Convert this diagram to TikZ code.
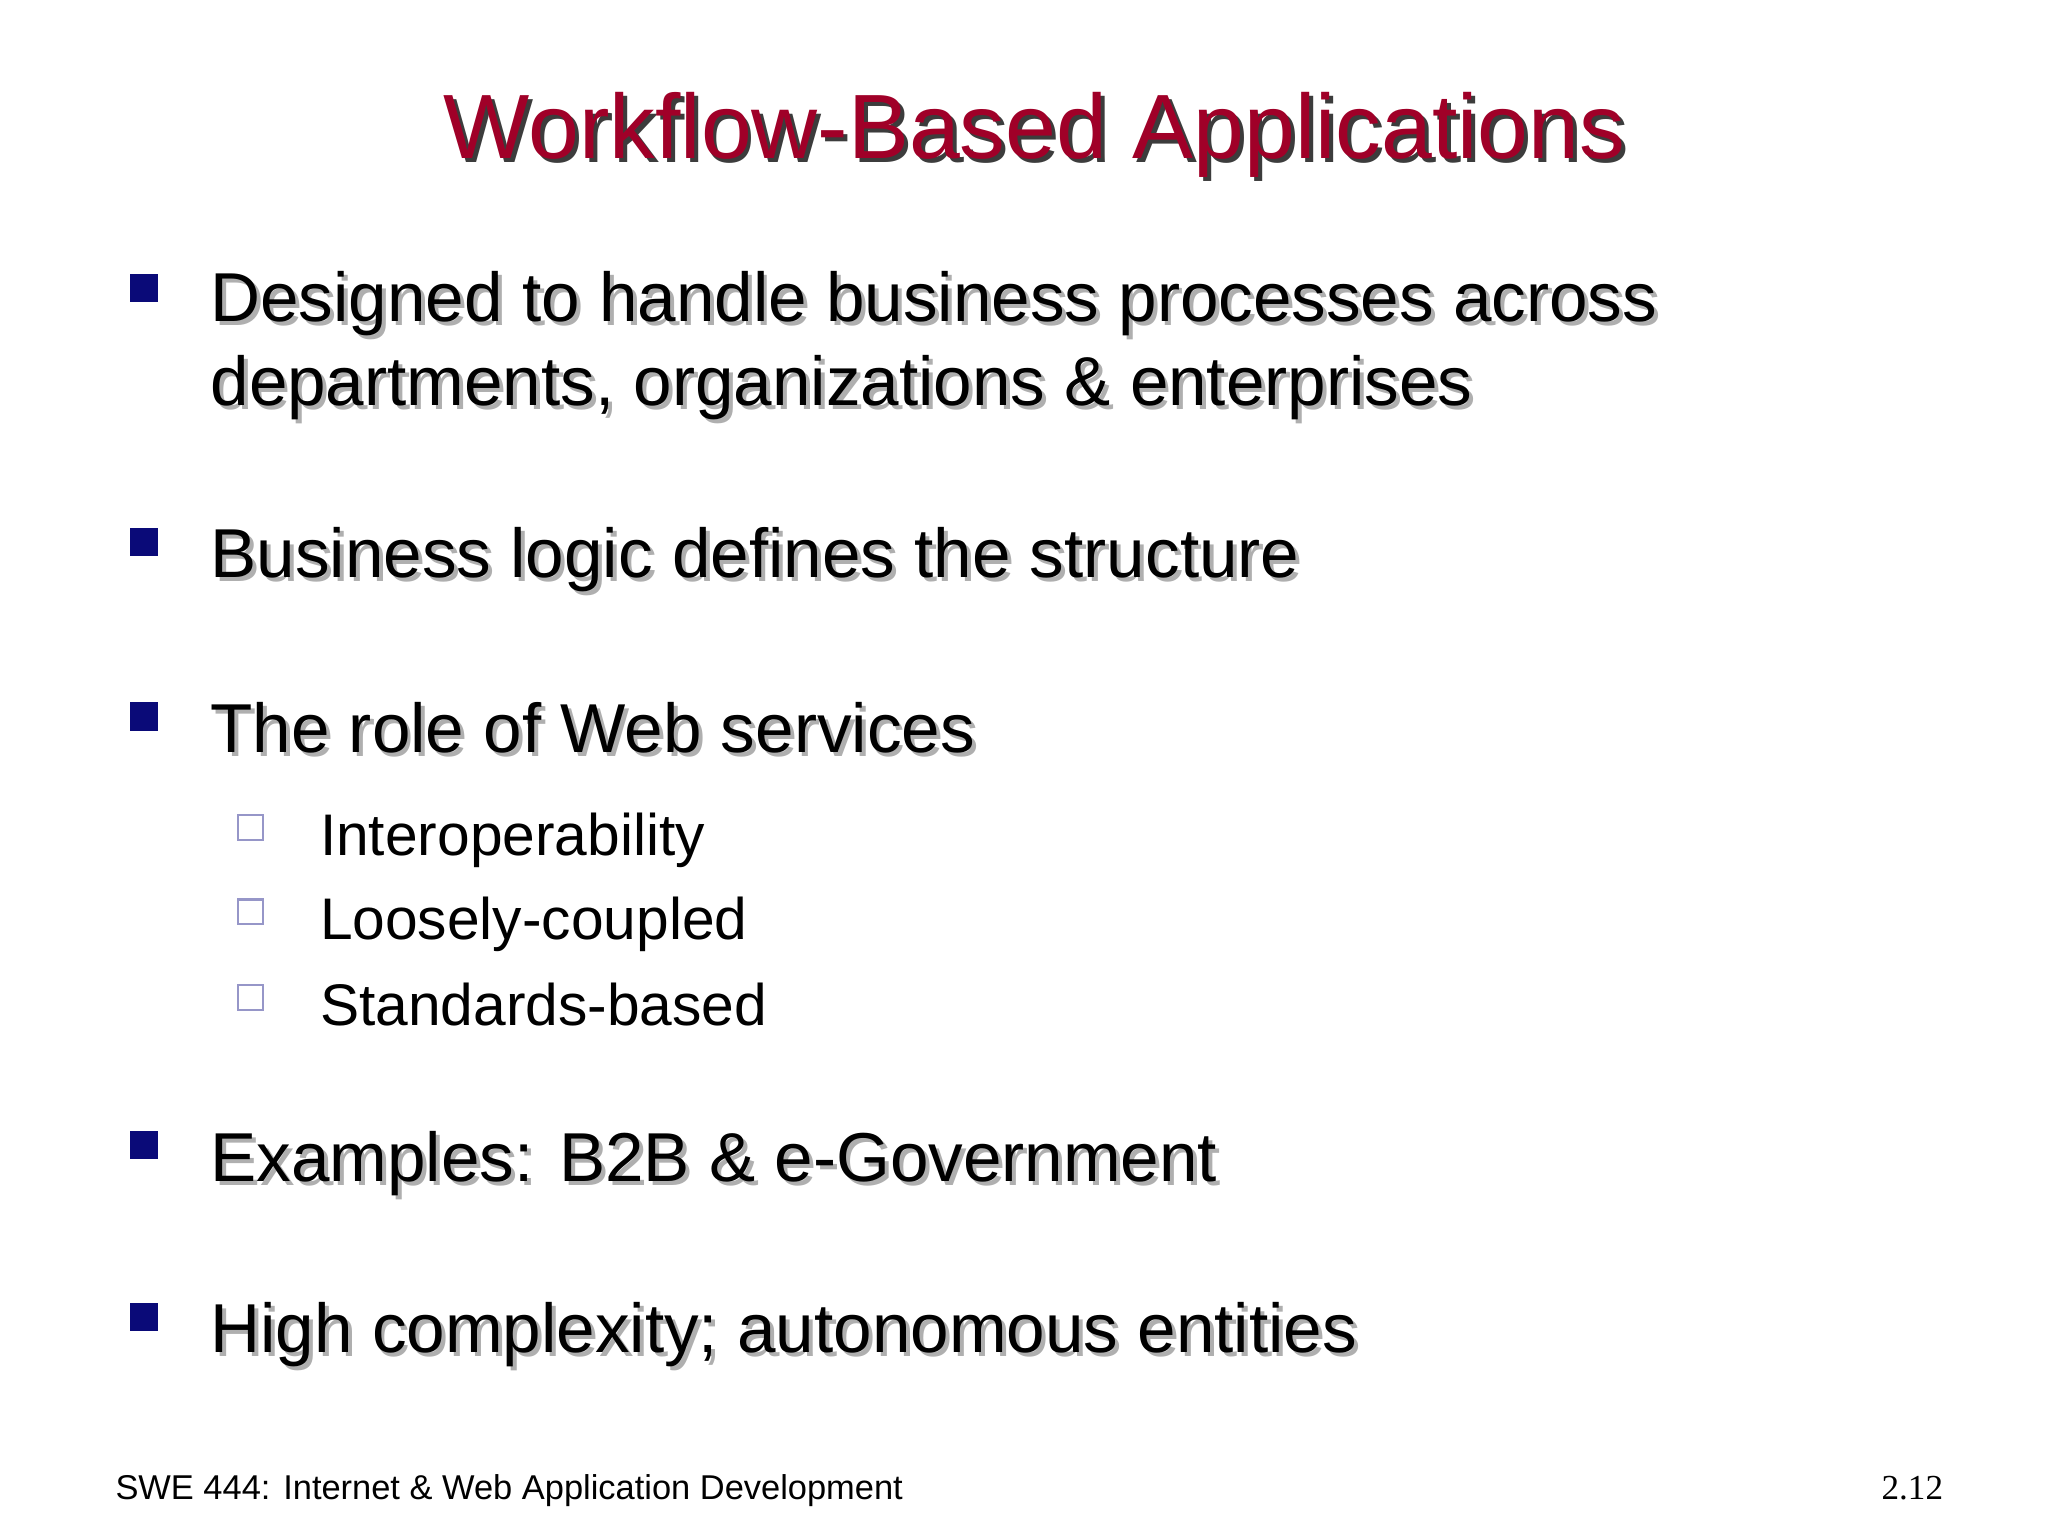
\documentclass[tikz,border=0pt]{standalone}
\usepackage{fontspec}
\setmainfont{Liberation Sans}
\newfontfamily\serifft{Liberation Serif}
\definecolor{titlered}{RGB}{160,0,40}
\definecolor{bulletblue}{RGB}{10,10,120}
\definecolor{subbox}{RGB}{150,150,200}
\definecolor{shade}{RGB}{175,175,175}
\definecolor{tshade}{RGB}{60,60,60}
\begin{document}
\begin{tikzpicture}[x=0.0132cm,y=-0.0132cm]
\useasboundingbox (0,0) rectangle (1552,1164);
\tikzset{
 main/.style={anchor=base west,font=\fontsize{19.7}{24}\selectfont,inner sep=0},
 sub/.style={anchor=base west,font=\fontsize{16.7}{20}\selectfont,inner sep=0},
 bul/.style={fill=bulletblue,minimum size=8pt,inner sep=0},
 sbul/.style={draw=subbox,line width=0.6pt,minimum size=7pt,inner sep=0}
}
% title
\node[anchor=base,font=\fontsize{26}{31}\selectfont,text=tshade,inner sep=0] at (787,123) {Workflow-Based Applications};
\node[anchor=base,font=\fontsize{26}{31}\selectfont,text=titlered,inner sep=0] (title) at (784,120) {Workflow-Based Applications};
% main bullets with shadow
\foreach \y/\t [count=\i] in {244/{Designed to handle business processes across},
  307/{departments, organizations \& enterprises},
  438/{Business logic defines the structure},
  570/{The role of Web services},
  895/{Examples: B2B \& e-Government},
  1025/{High complexity; autonomous entities}}{
  \node[main,text=shade] at (162,\y+3) {\t};
  \node[main] (m\i) at (159,\y) {\t};
}
\foreach \y [count=\i] in {218,411,543,868,998}
  \node[bul] (b\i) at (109,\y) {};
% sub bullets
\foreach \y/\t [count=\i] in {648/Interoperability,712/Loosely-coupled,777/Standards-based}{
  \node[sub] (s\i) at (242,\y) {\t};
  \node[sbul] (sb\i) at (190,\y-21) {};
}
% footer
\node[anchor=base west,font=\fontsize{9.8}{11}\selectfont,inner sep=0] (foot) at (87,1136) {SWE 444: Internet \& Web Application Development};
\node[anchor=base east,font=\serifft\fontsize{10}{12}\selectfont,inner sep=0] (pg) at (1473,1136) {2.12};
\end{tikzpicture}
\end{document}
